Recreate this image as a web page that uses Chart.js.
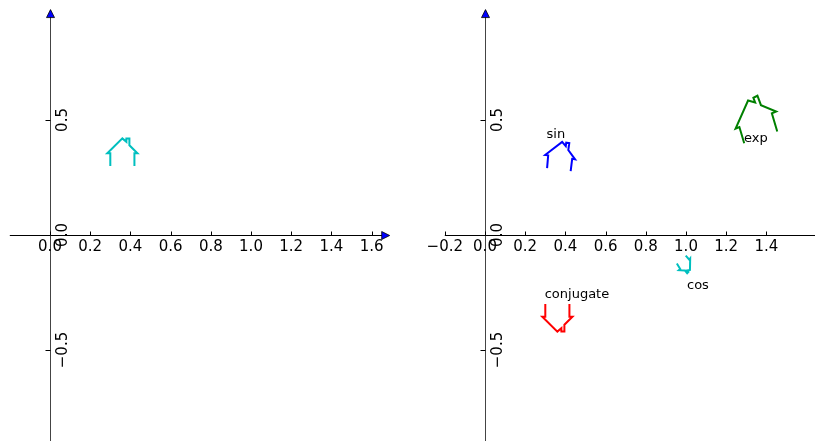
<!DOCTYPE html>
<html>
<head>
<meta charset="utf-8">
<script src="https://cdn.jsdelivr.net/npm/chart.js@4.4.1/dist/chart.umd.min.js"></script>
<style>
  body { margin: 0; background: #fff; }
  #wrap { position: relative; width: 815px; height: 441px; overflow: hidden; }
  canvas { position: absolute; top: 0; }
  #left { left: 0; }
  #right { left: 408px; }
</style>
</head>
<body>
<div id="wrap">
  <canvas id="left" width="408" height="441"></canvas>
  <canvas id="right" width="407" height="441"></canvas>
</div>
<script>
// House outline in the complex plane (real / imaginary parts)
const houseRe = [0.30, 0.30, 0.285, 0.36, 0.38, 0.38, 0.395, 0.395, 0.435, 0.42, 0.42];
const houseIm = [0.30, 0.355, 0.355, 0.42, 0.405, 0.42, 0.42, 0.39, 0.355, 0.355, 0.30];

// Images of the house under each map
const sinRe = [0.3089, 0.3143, 0.2991, 0.3838, 0.4018, 0.4041, 0.4193, 0.4144, 0.4482, 0.4337, 0.4262];
const sinIm = [0.2909, 0.3463, 0.3479, 0.4047, 0.3865, 0.4016, 0.3992, 0.3692, 0.3287, 0.3310, 0.2781];

const cosRe = [0.9987, 1.0162, 1.0208, 1.0197, 1.0059, 1.0118, 1.0056, 0.9941, 0.9646, 0.9712, 0.9545];
const cosIm = [-0.0900, -0.1071, -0.1019, -0.1523, -0.1544, -0.1604, -0.1664, -0.1539, -0.1528, -0.1478, -0.1242];

const expRe = [1.2896, 1.2657, 1.2468, 1.3088, 1.3440, 1.3352, 1.3554, 1.3729, 1.4486, 1.4271, 1.4540];
const expIm = [0.3989, 0.4692, 0.4622, 0.5845, 0.5762, 0.5963, 0.6053, 0.5643, 0.5370, 0.5290, 0.4498];

const conjRe = [0.30, 0.30, 0.285, 0.36, 0.38, 0.38, 0.395, 0.395, 0.435, 0.42, 0.42];
const conjIm = [-0.30, -0.355, -0.355, -0.42, -0.405, -0.42, -0.42, -0.39, -0.355, -0.355, -0.30];

// Ticks
const leftXTicks = [0.0, 0.2, 0.4, 0.6, 0.8, 1.0, 1.2, 1.4, 1.6];
const leftXLabels = ['0.0', '0.2', '0.4', '0.6', '0.8', '1.0', '1.2', '1.4', '1.6'];
const rightXTicks = [-0.2, 0.0, 0.2, 0.4, 0.6, 0.8, 1.0, 1.2, 1.4];
const rightXLabels = ['\u22120.2', '0.0', '0.2', '0.4', '0.6', '0.8', '1.0', '1.2', '1.4'];
const yTicks = [-0.5, 0.0, 0.5];
const yLabels = ['\u22120.5', '0.0', '0.5'];

const FONT = '"DejaVu Sans", sans-serif';

const toPoints = (re, im) => re.map((v, i) => ({ x: v, y: im[i] }));

const curve = (re, im, color) => ({
    data: toPoints(re, im),
    showLine: true,
    borderColor: color,
    backgroundColor: color,
    borderWidth: 2,
    pointRadius: 0,
    tension: 0,
    fill: false,
});

// draws axes through the origin, ticks, arrow heads and text notes
const planeAxes = {
    id: 'planeAxes',
    beforeDatasetsDraw(chart, args, opts) {
        const { ctx } = chart;
        const xs = chart.scales.x, ys = chart.scales.y;
        const ox = Math.round(xs.getPixelForValue(0)) + 0.5;
        const oy = Math.round(ys.getPixelForValue(0)) + 0.5;

        ctx.save();
        ctx.lineWidth = 1;

        // x axis
        const xa = xs.getPixelForValue(opts.xLine[0]);
        let xb = xs.getPixelForValue(opts.xLine[1]);
        ctx.strokeStyle = '#000';
        ctx.beginPath();
        ctx.moveTo(xa, oy);
        ctx.lineTo(opts.xArrow ? xb - 7 : xb, oy);
        ctx.stroke();

        // y axis
        const ya = ys.getPixelForValue(opts.yLine[0]);
        const yb = ys.getPixelForValue(opts.yLine[1]);
        ctx.strokeStyle = '#444';
        ctx.beginPath();
        ctx.moveTo(ox, ya);
        ctx.lineTo(ox, opts.yArrow ? yb + 7 : yb);
        ctx.stroke();

        // x ticks and labels
        ctx.strokeStyle = '#000';
        ctx.fillStyle = '#000';
        ctx.font = '15px ' + FONT;
        ctx.textAlign = 'center';
        ctx.textBaseline = 'alphabetic';
        opts.xTicks.forEach((v, i) => {
            const px = Math.round(xs.getPixelForValue(v)) + 0.5;
            ctx.beginPath();
            ctx.moveTo(px, oy);
            ctx.lineTo(px, oy - 4);
            ctx.stroke();
            ctx.fillText(opts.xLabels[i], xs.getPixelForValue(v), oy + 15);
        });

        // y ticks and rotated labels
        opts.yTicks.forEach((v, i) => {
            const py = Math.round(ys.getPixelForValue(v)) + 0.5;
            ctx.beginPath();
            ctx.moveTo(ox, py);
            ctx.lineTo(ox - 5, py);
            ctx.stroke();
            ctx.save();
            ctx.translate(ox + 16, ys.getPixelForValue(v));
            ctx.rotate(-Math.PI / 2);
            ctx.fillText(opts.yLabels[i], 0, 0);
            ctx.restore();
        });

        // arrow heads
        ctx.fillStyle = '#0000ff';
        ctx.strokeStyle = '#000';
        ctx.lineWidth = 0.8;
        if (opts.xArrow) {
            ctx.beginPath();
            ctx.moveTo(xb, oy);
            ctx.lineTo(xb - 8, oy - 4);
            ctx.lineTo(xb - 8, oy + 4);
            ctx.closePath();
            ctx.fill();
            ctx.stroke();
        }
        if (opts.yArrow) {
            ctx.beginPath();
            ctx.moveTo(ox, yb);
            ctx.lineTo(ox - 4, yb + 8);
            ctx.lineTo(ox + 4, yb + 8);
            ctx.closePath();
            ctx.fill();
            ctx.stroke();
        }
        ctx.restore();
    },
    afterDatasetsDraw(chart, args, opts) {
        const { ctx } = chart;
        const xs = chart.scales.x, ys = chart.scales.y;
        ctx.save();
        ctx.fillStyle = '#000';
        ctx.font = '13px ' + FONT;
        ctx.textAlign = 'left';
        ctx.textBaseline = 'alphabetic';
        (opts.notes || []).forEach(n => {
            ctx.fillText(n.text, xs.getPixelForValue(n.x), ys.getPixelForValue(n.y));
        });
        ctx.restore();
    }
};

function makePlane(canvasId, xMin, xMax, datasets, axesOpts) {
    return new Chart(document.getElementById(canvasId), {
        type: 'scatter',
        data: { datasets },
        options: {
            responsive: false,
            devicePixelRatio: 1,
            animation: false,
            layout: { padding: 0 },
            scales: {
                x: { type: 'linear', min: xMin, max: xMax, display: false },
                y: { type: 'linear', min: -0.8957, max: 1.0217, display: false },
            },
            plugins: {
                legend: { display: false },
                tooltip: { enabled: false },
                planeAxes: axesOpts,
            },
        },
        plugins: [planeAxes],
    });
}

const leftPlane = makePlane('left', -0.2488, 1.7811,
    [curve(houseRe, houseIm, '#00bfbf')],
    {
        xLine: [-0.2, 1.69], yLine: [-0.9, 0.98],
        xArrow: true, yArrow: true,
        xTicks: leftXTicks, xLabels: leftXLabels,
        yTicks: yTicks, yLabels: yLabels,
    });

const rightPlane = makePlane('right', -0.3831, 1.6418,
    [
        curve(sinRe, sinIm, '#0000ff'),
        curve(expRe, expIm, '#008000'),
        curve(cosRe, cosIm, '#00bfbf'),
        curve(conjRe, conjIm, '#ff0000'),
    ],
    {
        xLine: [-0.2, 1.6418], yLine: [-0.9, 0.98],
        xArrow: false, yArrow: true,
        xTicks: rightXTicks, xLabels: rightXLabels,
        yTicks: yTicks, yLabels: yLabels,
        notes: [
            { text: 'sin', x: 0.306, y: 0.422 },
            { text: 'exp', x: 1.289, y: 0.406 },
            { text: 'cos', x: 1.005, y: -0.236 },
            { text: 'conjugate', x: 0.297, y: -0.274 },
        ],
    });
</script>
</body>
</html>
